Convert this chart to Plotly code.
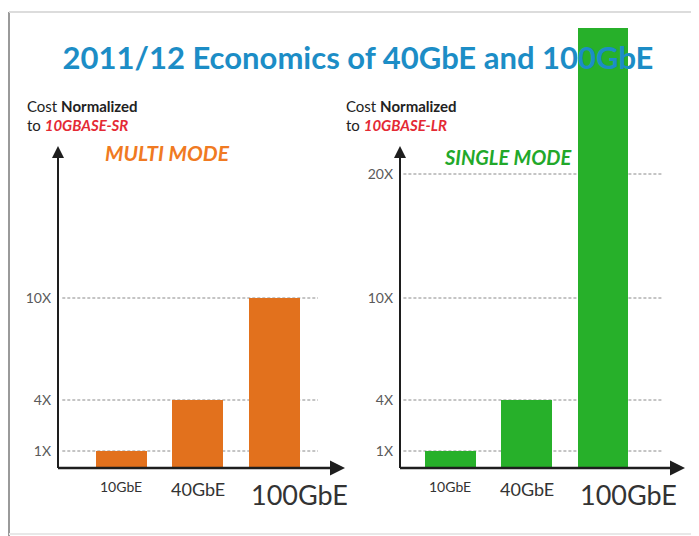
import plotly.graph_objects as go

# ---------------- data ----------------
categories = ["10GbE", "40GbE", "100GbE"]
multi_mode_cost = [1, 4, 10]          # normalized to 10GBASE-SR
single_mode_cost = [1, 4, 33]         # normalized to 10GBASE-LR (100GbE bar runs off the top)
mm_tick_vals = [1, 4, 10]
sm_tick_vals_low = [1, 4, 10]
sm_tick_vals_high = [20]
tick_text = {1: "1X", 4: "4X", 10: "10X", 20: "20X"}
title_text = "2011/12 Economics of 40GbE and 100GbE"

# ---------------- layout helpers ----------------
OFF = 8                      # page body margin
W, H = 699 - OFF, 536 - OFF
def px(p):
    return (p - OFF) / W
def py(p):
    return 1 - (p - OFF) / H

ORANGE = "#e2711d"
GREEN = "#27b02a"
GRID = "#8a8a8a"
AXIS = "#1e1e1e"
FONT = "Lato"

label_sizes = [14, 18, 27]
label_anchor = ["center", "center", "left"]

fig = go.Figure()
fig.add_trace(go.Bar(x=categories, y=multi_mode_cost, xaxis="x", yaxis="y",
                     width=0.667, marker=dict(color=ORANGE, line=dict(width=0)),
                     showlegend=False))
fig.add_trace(go.Bar(x=categories, y=single_mode_cost, xaxis="x2", yaxis="y2",
                     width=0.667, marker=dict(color=GREEN, line=dict(width=0)),
                     showlegend=False))
fig.add_trace(go.Bar(x=categories, y=single_mode_cost, xaxis="x3", yaxis="y3",
                     width=0.667, marker=dict(color=GREEN, line=dict(width=0)),
                     showlegend=False))

tickfont = dict(family=FONT, size=14, color="#5a5a5a")
left_dom = [px(58), px(345)]
right_dom = [px(400), px(685)]
left_xr = [-0.83, 2.922]
right_xr = [-0.662, 3.076]
low_k = 17.0
hi_k = 11.25
break_px = 264

fig.update_layout(
    width=W, height=H, margin=dict(l=0, r=0, t=0, b=0),
    paper_bgcolor="white", plot_bgcolor="rgba(0,0,0,0)",
    bargap=0,
    title=dict(text="<b>" + title_text + "</b>", x=px(358), y=py(58),
               xanchor="center", yanchor="middle",
               font=dict(family=FONT, size=31, color="#1c8dc6")),
    xaxis=dict(domain=left_dom, range=left_xr, anchor="y", showticklabels=False,
               showgrid=False, zeroline=False, showline=False, fixedrange=True),
    yaxis=dict(domain=[py(468), py(20)], range=[0, (468 - 20) / low_k], anchor="x",
               tickvals=mm_tick_vals, ticktext=[tick_text[v] for v in mm_tick_vals],
               tickfont=tickfont, showgrid=False, zeroline=False, showline=False,
               ticks="", ticklabelstandoff=6),
    xaxis2=dict(domain=right_dom, range=right_xr, anchor="y2", showticklabels=False,
                showgrid=False, zeroline=False, showline=False),
    yaxis2=dict(domain=[py(468), py(break_px)], range=[0, (468 - break_px) / low_k], anchor="x2",
                tickvals=sm_tick_vals_low, ticktext=[tick_text[v] for v in sm_tick_vals_low],
                tickfont=tickfont, showgrid=False, zeroline=False, showline=False,
                ticks="", ticklabelstandoff=6),
    xaxis3=dict(domain=right_dom, range=right_xr, anchor="y3", visible=False),
    yaxis3=dict(domain=[py(break_px), py(20)],
                range=[(468 - break_px) / low_k, (468 - break_px) / low_k + (break_px - 20) / hi_k],
                anchor="x3",
                tickvals=sm_tick_vals_high, ticktext=[tick_text[v] for v in sm_tick_vals_high],
                tickfont=tickfont, showgrid=False, zeroline=False, showline=False,
                ticks="", ticklabelstandoff=6),
)

shapes = []
# frame
shapes.append(dict(type="line", xref="paper", yref="paper", x0=px(9), x1=px(9), y0=py(12), y1=0,
                   line=dict(color="#9a9a9a", width=2)))
shapes.append(dict(type="line", xref="paper", yref="paper", x0=px(9), x1=1, y0=py(12), y1=py(12),
                   line=dict(color="#dcdcdc", width=2)))
shapes.append(dict(type="line", xref="paper", yref="paper", x0=px(9), x1=1, y0=py(534), y1=py(534),
                   line=dict(color="#e8e8e8", width=2)))
# gridlines
for v in mm_tick_vals:
    shapes.append(dict(type="line", xref="x domain", yref="y", x0=0.015, x1=0.906, y0=v, y1=v,
                       layer="below", line=dict(color=GRID, width=1, dash="3px,2px")))
for v in sm_tick_vals_low:
    shapes.append(dict(type="line", xref="x2 domain", yref="y2", x0=0.012, x1=0.923, y0=v, y1=v,
                       layer="below", line=dict(color=GRID, width=1, dash="3px,2px")))
for v in sm_tick_vals_high:
    shapes.append(dict(type="line", xref="x3 domain", yref="y3", x0=0.012, x1=0.923, y0=v, y1=v,
                       layer="below", line=dict(color=GRID, width=1, dash="3px,2px")))
# axis lines
for xr in ["x domain", "x2 domain"]:
    shapes.append(dict(type="line", xref=xr, yref="paper", x0=0, x1=0, y0=py(468), y1=py(150),
                       line=dict(color=AXIS, width=2)))
    shapes.append(dict(type="line", xref=xr, yref="paper", x0=0, x1=0.985, y0=py(468), y1=py(468),
                       line=dict(color=AXIS, width=2.5)))
fig.update_layout(shapes=shapes)

ann = []
# arrow heads
for xr in ["x domain", "x2 domain"]:
    ann.append(dict(xref=xr, yref="paper", x=0, y=py(146), ax=0, ay=10, axref="pixel", ayref="pixel",
                    text="", showarrow=True, arrowhead=2, arrowsize=1.2, arrowwidth=2, arrowcolor=AXIS))
    ann.append(dict(xref=xr, yref="paper", x=1, y=py(468), ax=-10, ay=0, axref="pixel", ayref="pixel",
                    text="", showarrow=True, arrowhead=2, arrowsize=1.2, arrowwidth=2.5, arrowcolor=AXIS))
# category labels
for xr in ["x", "x2"]:
    for i, c in enumerate(categories):
        xpos = i - 0.333 if label_anchor[i] == "left" else i
        ann.append(dict(xref=xr, yref="paper", x=xpos, y=py(476), xanchor=label_anchor[i],
                        yanchor="top", text=c, showarrow=False,
                        font=dict(family=FONT, size=label_sizes[i], color="#333333")))
# panel captions
captions = [
    (25, "Cost <b>Normalized</b>", "10GBASE-SR", 103, "MULTI MODE", "#f07a22", 152, 21),
    (344, "Cost <b>Normalized</b>", "10GBASE-LR", 442, "SINGLE MODE", "#22a82a", 157, 20),
]
for x0, l1, ref, mx, mt, mc, my, ms in captions:
    ann.append(dict(xref="paper", yref="paper", x=px(x0), y=py(106), xanchor="left", yanchor="middle",
                    text=l1, showarrow=False, font=dict(family=FONT, size=15, color="#222222")))
    ann.append(dict(xref="paper", yref="paper", x=px(x0), y=py(125), xanchor="left", yanchor="middle",
                    text="to <b><i><span style='color:#e42a34'>" + ref + "</span></i></b>",
                    showarrow=False, font=dict(family=FONT, size=15, color="#222222")))
    ann.append(dict(xref="paper", yref="paper", x=px(mx), y=py(my), xanchor="left", yanchor="middle",
                    text="<b><i>" + mt + "</i></b>", showarrow=False,
                    font=dict(family=FONT, size=ms, color=mc)))
fig.update_layout(annotations=ann)

fig.write_html("out.html")
